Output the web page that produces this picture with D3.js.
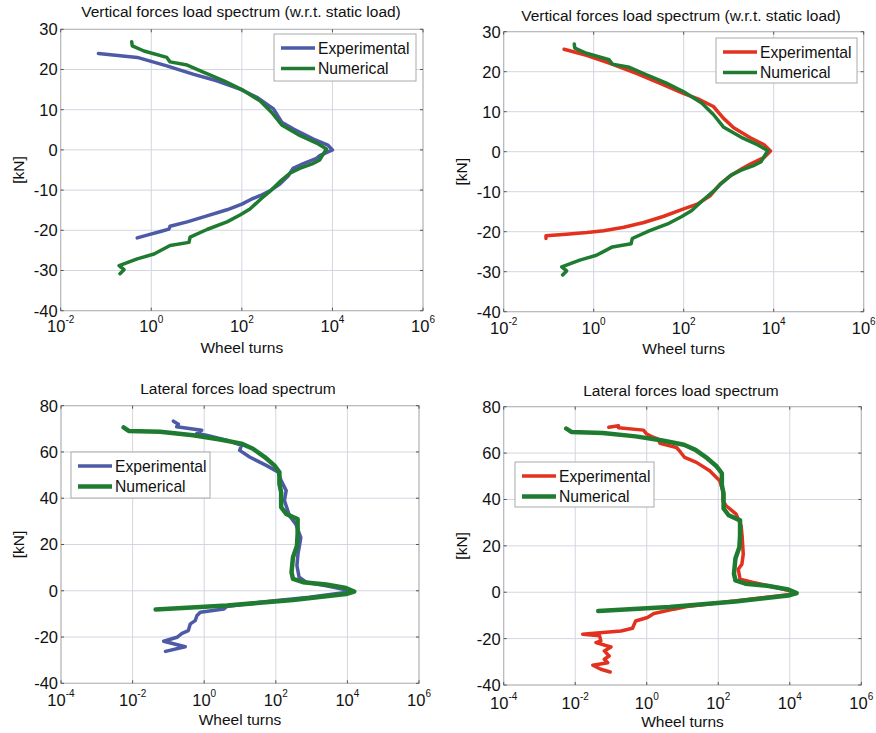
<!DOCTYPE html>
<html>
<head>
<meta charset="utf-8">
<script src="https://cdn.jsdelivr.net/npm/d3@7"></script>
<style>
  body { margin: 0; background: #fff; }
  svg { font-family: 'Liberation Sans', Arial, sans-serif; }
  .grid line { stroke: #d3d6e0; stroke-width: 1; }
  .frame { fill: none; stroke: #b4b4b4; stroke-width: 1; }
  .tick-mark { stroke: #555; stroke-width: 1; }
  .tick-label { font-size: 16.5px; fill: #111; }
  .title { font-size: 15.5px; fill: #111; }
  .axis-label { font-size: 15.5px; fill: #111; }
  .legend-box { fill: #fff; stroke: #aaa; stroke-width: 1; }
  .legend-text { font-size: 15.7px; fill: #111; }
</style>
</head>
<body>
<svg id="chart" width="876" height="733"></svg>
<script>

// [wheel turns, kN]
const vertExpBlue = [
  [0.068, 24.0], [0.49, 23.0], [2.2, 20.9], [8.7, 18.8], [28, 17.2], [91, 15.1],
  [214, 13.1], [500, 10.2], [760, 6.9], [1380, 5.2], [3800, 2.7], [7940, 1.2],
  [10000, 0], [5250, -1.4], [4470, -2.1], [2290, -3.4], [1350, -4.6], [1050, -6.5],
  [690, -8.5], [417, -10.2], [251, -11.4], [166, -12.2], [100, -13.5], [47, -14.9],
  [17, -16.4], [6.2, -17.9], [2.6, -19.0], [2.45, -19.7], [1.6, -20.3], [0.81, -21.2],
  [0.49, -21.9]
]

const vertExpRed = [
  [0.22, 25.6], [0.69, 24.1], [2.3, 22.1], [8.9, 19.6], [30, 17.1], [98, 14.6],
  [229, 13.0], [457, 11.3], [760, 8.4], [1290, 6.0], [3020, 3.5], [6030, 1.8],
  [8500, 0.2], [6030, -1.5], [3020, -3.1], [2000, -4.2], [1100, -6.0], [645, -8.1],
  [389, -11.0], [200, -13.1], [100, -14.3], [35, -16.2], [13, -17.7], [4.7, -18.9],
  [1.66, -19.75], [0.71, -20.2], [0.21, -20.7], [0.087, -21.0], [0.087, -21.7]
]

const vertNum = [
  [0.37, 26.9], [0.38, 25.9], [0.69, 24.6], [2.2, 23.0], [2.6, 21.9], [6.2, 21.1],
  [14.5, 19.3], [40, 17.2], [100, 15.0], [251, 12.2], [457, 9.3], [760, 6.2],
  [1900, 3.6], [4470, 1.7], [7400, 0.25], [6300, -1.0], [5250, -2.5], [3550, -3.5],
  [1900, -4.6], [1150, -5.8], [690, -7.9], [447, -10.0], [263, -12.2], [151, -14.7],
  [91, -16.2], [47, -17.9], [17, -19.8], [7.2, -21.7], [6.8, -23.0], [2.6, -23.8],
  [1.15, -25.9], [0.49, -27.1], [0.195, -28.8], [0.25, -29.8], [0.204, -30.8]
]

const latExpBlue = [
  [0.138, 73.3], [0.19, 72.0], [0.17, 70.9], [0.85, 69.4], [0.62, 68.0], [1.15, 67.2],
  [4.2, 65.1], [11, 62.9], [9.8, 60.7], [18.6, 57.8], [54, 54.2], [115, 51.3],
  [141, 47.7], [195, 43.3], [174, 39.0], [240, 32.5], [363, 28.8], [500, 23.0],
  [457, 19.4], [417, 16.0], [389, 10.9], [447, 5.9], [708, 3.7], [2570, 2.2],
  [9100, 0.4], [14100, -0.3], [870, -2.8], [36, -5.0], [4.3, -6.8], [3.5, -7.9],
  [0.78, -9.3], [0.63, -10.7], [0.56, -12.9], [0.41, -14.3], [0.36, -17.2],
  [0.24, -18.4], [0.174, -20.1], [0.074, -21.8], [0.295, -24.2], [0.083, -26.2]
]

const latExpRed = [
  [0.087, 71.1], [0.162, 71.8], [0.162, 70.9], [0.81, 69.9], [1.0, 68.2], [1.38, 67.1],
  [2.1, 66.0], [2.35, 64.2], [6.8, 62.4], [8.5, 60.7], [11.5, 58.1], [24.5, 56.0],
  [57.5, 52.4], [110, 48.1], [135, 43.7], [135, 39.4], [166, 37.3], [316, 33.7],
  [437, 28.6], [468, 23.6], [500, 16.4], [457, 12.1], [363, 9.9], [407, 5.6],
  [955, 4.2], [4270, 2.0], [12300, 0.3], [15500, -0.6], [331, -3.7], [13.5, -6.2],
  [5.75, -7.3], [1.58, -9.2], [1.05, -10.9], [0.49, -12.4], [0.40, -15.5],
  [0.19, -16.7], [0.0275, -17.8], [0.0162, -18.1], [0.048, -18.8], [0.052, -21.0],
  [0.038, -21.7], [0.10, -23.6], [0.065, -25.3], [0.089, -27.5], [0.065, -28.9],
  [0.081, -30.4], [0.031, -31.5], [0.052, -33.2], [0.095, -34.4]
]

const latNum = [
  [0.0056, 70.6], [0.0078, 69.1], [0.059, 68.7], [0.49, 67.2], [2.75, 65.4], [11, 63.6],
  [23, 61.4], [49, 57.8], [91, 54.2], [126, 51.3], [126, 46.2], [141, 42.6],
  [141, 36.1], [195, 33.2], [407, 31.0], [407, 24.5], [389, 19.4], [302, 14.5],
  [275, 8.0], [302, 5.1], [575, 3.7], [2570, 2.7], [9100, 1.2], [15500, -0.35],
  [9100, -1.4], [302, -4.0], [4.3, -6.4], [0.044, -8.1]
]

const vertTitle = 'Vertical forces load spectrum (w.r.t. static load)'
const latTitle = 'Lateral forces load spectrum'
const seriesNames = ['Experimental', 'Numerical']
const vertXExp = [-2, 0, 2, 4, 6]
const latXExp = [-4, -2, 0, 2, 4, 6]
const vertYTicks = [-40, -30, -20, -10, 0, 10, 20, 30]
const latYTicks = [-40, -20, 0, 20, 40, 60, 80]

const blue = '#4d5aa6'
const red = '#e2321f'
const green = '#1f7b30'

const panels = [
  {
    box: { left: 60.7, right: 423, top: 29.3, bottom: 310.7 },
    xExp: vertXExp, yTicks: vertYTicks, yDomain: [-40, 30],
    title: vertTitle, titleX: 241, titleY: 17, labelY: 353, tickY: 332, kNx: 24,
    series: [{ data: vertExpBlue, color: blue, w: 3.5 }, { data: vertNum, color: green, w: 3.5 }],
    legend: { x: 274, y: 34, w: 142, h: 47 }
  },
  {
    box: { left: 503.7, right: 863.7, top: 31.7, bottom: 311.7 },
    xExp: vertXExp, yTicks: vertYTicks, yDomain: [-40, 30],
    title: vertTitle, titleX: 681, titleY: 21, labelY: 354, tickY: 334, kNx: 467,
    series: [{ data: vertExpRed, color: red, w: 3.5 }, { data: vertNum, color: green, w: 3.5 }],
    legend: { x: 716, y: 38, w: 141, h: 45 }
  },
  {
    box: { left: 61, right: 419, top: 405.7, bottom: 683.3 },
    xExp: latXExp, yTicks: latYTicks, yDomain: [-40, 80],
    title: latTitle, titleX: 238, titleY: 394, labelY: 725, tickY: 706, kNx: 24,
    series: [{ data: latExpBlue, color: blue, w: 3.5 }, { data: latNum, color: green, w: 4.5 }],
    legend: { x: 71, y: 452, w: 139, h: 46 }
  },
  {
    box: { left: 503.7, right: 861.3, top: 406.7, bottom: 685 },
    xExp: latXExp, yTicks: latYTicks, yDomain: [-40, 80],
    title: latTitle, titleX: 681, titleY: 396, labelY: 727, tickY: 709, kNx: 467,
    series: [{ data: latExpRed, color: red, w: 3.5 }, { data: latNum, color: green, w: 4.5 }],
    legend: { x: 515, y: 462, w: 139, h: 45 }
  }
]

const svg = d3.select('#chart')

const drawPanel = p => {

  const b = p.box
  const g = svg.append('g')

  const xScale = d3.scaleLog()
    .domain([Math.pow(10, p.xExp[0]), Math.pow(10, p.xExp[p.xExp.length - 1])])
    .range([b.left, b.right])

  const yScale = d3.scaleLinear()
    .domain(p.yDomain)
    .range([b.bottom, b.top])

  const xTicks = p.xExp.map(e => Math.pow(10, e))

  // grid
  const grid = g.append('g').attr('class', 'grid')

  grid.selectAll('.gx')
    .data(xTicks)
    .enter()
    .append('line')
    .attr('x1', d => xScale(d))
    .attr('x2', d => xScale(d))
    .attr('y1', b.top)
    .attr('y2', b.bottom)

  grid.selectAll('.gy')
    .data(p.yTicks)
    .enter()
    .append('line')
    .attr('x1', b.left)
    .attr('x2', b.right)
    .attr('y1', d => yScale(d))
    .attr('y2', d => yScale(d))

  g.append('rect')
    .attr('class', 'frame')
    .attr('x', b.left)
    .attr('y', b.top)
    .attr('width', b.right - b.left)
    .attr('height', b.bottom - b.top)

  // inward tick marks on all four sides
  xTicks.forEach(d => {
    const x = xScale(d)
    g.append('line').attr('class', 'tick-mark')
      .attr('x1', x).attr('x2', x).attr('y1', b.bottom).attr('y2', b.bottom - 3)
    g.append('line').attr('class', 'tick-mark')
      .attr('x1', x).attr('x2', x).attr('y1', b.top).attr('y2', b.top + 3)
  })
  p.yTicks.forEach(d => {
    const y = yScale(d)
    g.append('line').attr('class', 'tick-mark')
      .attr('x1', b.left).attr('x2', b.left + 3).attr('y1', y).attr('y2', y)
    g.append('line').attr('class', 'tick-mark')
      .attr('x1', b.right).attr('x2', b.right - 3).attr('y1', y).attr('y2', y)
  })

  // x tick labels 10^n
  const xl = g.selectAll('.xl')
    .data(p.xExp)
    .enter()
    .append('text')
    .attr('class', 'tick-label')
    .attr('x', d => xScale(Math.pow(10, d)))
    .attr('y', p.tickY)
    .attr('text-anchor', 'middle')

  xl.append('tspan').text('10')
  xl.append('tspan')
    .attr('dy', -9)
    .style('font-size', '10px')
    .text(d => d)

  g.selectAll('.yl')
    .data(p.yTicks)
    .enter()
    .append('text')
    .attr('class', 'tick-label')
    .attr('x', b.left - 3)
    .attr('y', d => yScale(d))
    .attr('dy', '0.36em')
    .attr('text-anchor', 'end')
    .text(d => d)

  // curves
  const line = d3.line()
    .x(d => xScale(d[0]))
    .y(d => yScale(d[1]))

  p.series.forEach(s => {
    g.append('path')
      .datum(s.data)
      .attr('d', line)
      .attr('fill', 'none')
      .attr('stroke', s.color)
      .attr('stroke-width', s.w)
      .attr('stroke-linejoin', 'round')
      .attr('stroke-linecap', 'round')
  })

  // legend
  const L = p.legend
  const lg = g.append('g').attr('transform', `translate(${L.x}, ${L.y})`)
  lg.append('rect')
    .attr('class', 'legend-box')
    .attr('width', L.w)
    .attr('height', L.h)

  p.series.forEach((s, i) => {
    const y = 14 + i * 20.5
    lg.append('line')
      .attr('x1', 7).attr('x2', 41)
      .attr('y1', y).attr('y2', y)
      .attr('stroke', s.color)
      .attr('stroke-width', s.w)
    lg.append('text')
      .attr('class', 'legend-text')
      .attr('x', 44)
      .attr('y', y + 5.5)
      .text(seriesNames[i])
  })

  // titles and axis labels
  g.append('text')
    .attr('class', 'title')
    .attr('x', p.titleX)
    .attr('y', p.titleY)
    .attr('text-anchor', 'middle')
    .text(p.title)

  g.append('text')
    .attr('class', 'axis-label')
    .attr('x', (b.left + b.right) / 2)
    .attr('y', p.labelY)
    .attr('text-anchor', 'middle')
    .text('Wheel turns')

  g.append('text')
    .attr('class', 'axis-label')
    .attr('transform', `translate(${p.kNx}, ${(b.top + b.bottom) / 2}) rotate(-90)`)
    .attr('text-anchor', 'middle')
    .text('[kN]')
}

panels.forEach(drawPanel)

</script>
</body>
</html>
